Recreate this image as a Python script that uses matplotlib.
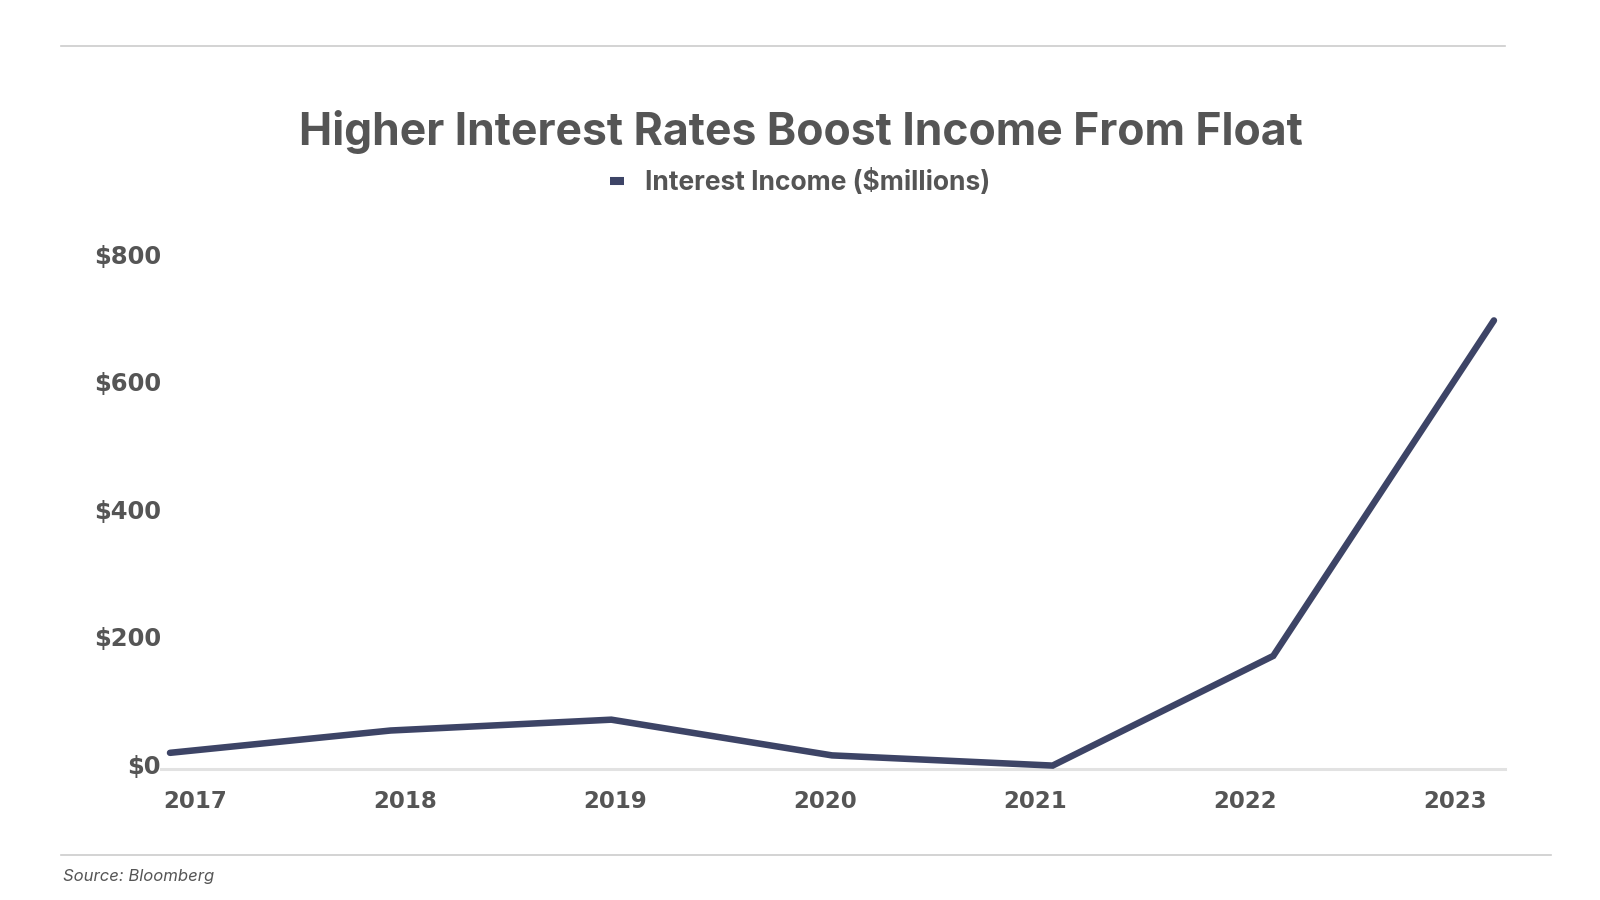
import matplotlib.pyplot as plt
import matplotlib.lines as mlines
import matplotlib.transforms as mtransforms

# data
years = ['2017', '2018', '2019', '2020', '2021', '2022', '2023']
interest_income = [26, 61, 78, 22, 6, 178, 704]
y_ticks = [0, 200, 400, 600, 800]
y_tick_labels = ['$0', '$200', '$400', '$600', '$800']

line_color = '#3d4466'
text_color = '#555555'

fig = plt.figure(figsize=(16, 9), dpi=100)
fig.patch.set_facecolor('white')

ax = fig.add_axes([0.1006, 0.1451, 0.84, 0.5669])
x = list(range(len(years)))
ax.plot(x, interest_income, color=line_color, linewidth=4.7,
        solid_capstyle='round', solid_joinstyle='miter', clip_on=False, zorder=3)
ax.set_xlim(-0.041, 6.05)
ax.set_ylim(0, 800)

for s in ['top', 'right', 'left']:
    ax.spines[s].set_visible(False)
ax.spines['bottom'].set_color('#e2e2e2')
ax.spines['bottom'].set_linewidth(2.2)

ax.set_yticks(y_ticks)
ax.set_yticklabels(y_tick_labels, fontsize=17.5, fontweight='bold',
                   color=text_color, family='DejaVu Sans')
ax.tick_params(axis='y', length=0, pad=0)
# labels sit a little above their value line
lift = mtransforms.ScaledTranslation(0, 3.7 / 72, fig.dpi_scale_trans)
for lab in ax.get_yticklabels():
    lab.set_transform(lab.get_transform() + lift)
ax.set_xticks([])

# year labels sit on their own scale, as in the original
ax2 = ax.twiny()
ax2.set_xlim(-0.162, 6.238)
ax2.xaxis.set_ticks_position('bottom')
ax2.xaxis.set_label_position('bottom')
ax2.set_xticks(x)
ax2.set_xticklabels(years, fontsize=16.5, fontweight='bold', color=text_color,
                    family='DejaVu Sans')
ax2.tick_params(axis='x', length=0, pad=14.5)
for s in ax2.spines.values():
    s.set_visible(False)

# title and legend
fig.text(0.5006, 1 - 132 / 900, 'Higher Interest Rates Boost Income From Float',
         ha='center', va='center', fontsize=32, fontweight='bold',
         color=text_color, family='Inter')
handle = mlines.Line2D([], [], color=line_color, linewidth=5.8,
                       solid_capstyle='butt')
fig.legend([handle], ['Interest Income ($millions)'], loc='center',
           bbox_to_anchor=(0.5, 1 - 183 / 900), frameon=False,
           prop={'family': 'Inter', 'weight': 'bold', 'size': 19},
           labelcolor=text_color, handletextpad=0.8, handlelength=0.55)

# rules and source
fig.add_artist(mlines.Line2D([61 / 1600, 1505 / 1600], [1 - 46 / 900, 1 - 46 / 900],
                             color='#cccccc', linewidth=1.2))
fig.add_artist(mlines.Line2D([61 / 1600, 1551 / 1600], [1 - 855 / 900, 1 - 855 / 900],
                             color='#cccccc', linewidth=1.2))
fig.text(63 / 1600, 1 - 876 / 900, 'Source: Bloomberg', ha='left', va='center',
         fontsize=12, fontstyle='italic', color=text_color, family='Inter')

fig.savefig('out.png', dpi=100, facecolor='white')
